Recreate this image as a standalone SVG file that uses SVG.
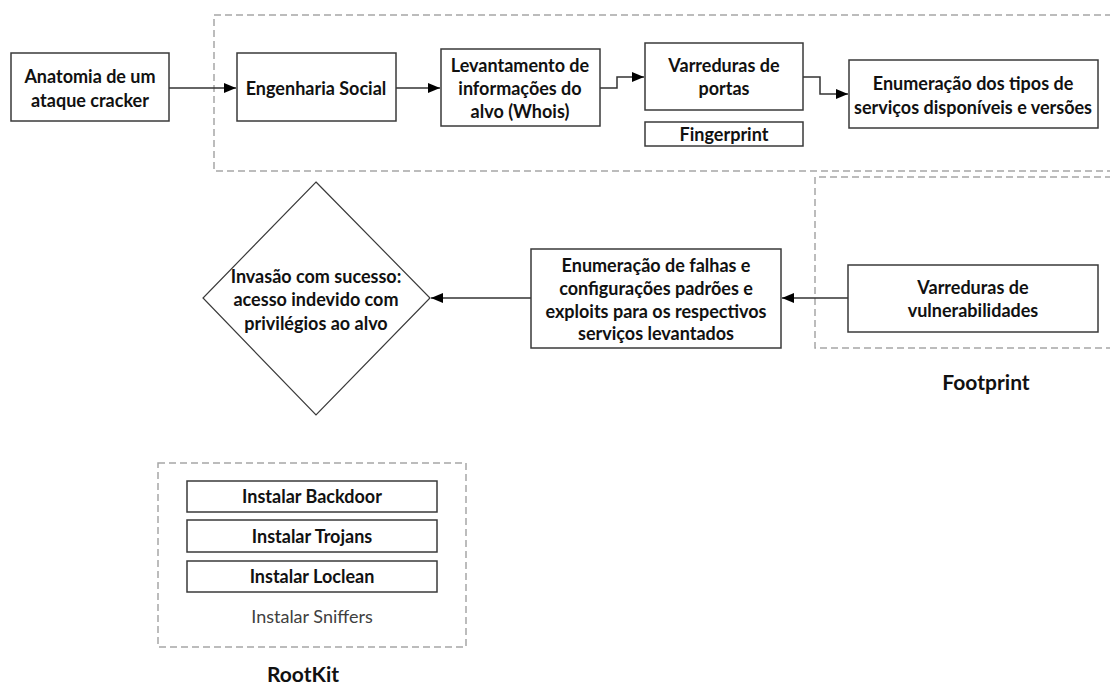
<svg xmlns="http://www.w3.org/2000/svg" width="1110" height="684" viewBox="0 0 1110 684">
  <defs>
    <marker id="arrow" viewBox="0 0 12 10" refX="12" refY="5" markerWidth="12" markerHeight="10" markerUnits="userSpaceOnUse" orient="auto">
      <path d="M0,0 L12,5 L0,10 Z" fill="#000"/>
    </marker>
    <style>
      .box { fill: #fff; stroke: #3a3a3a; stroke-width: 1.5; }
      .group { fill: none; stroke: #a6a6a6; stroke-width: 1.5; stroke-dasharray: 7 4; }
      .t { font-family: Lato, "Liberation Sans", sans-serif; font-weight: bold; font-size: 18px; fill: #111; text-anchor: middle; dominant-baseline: central; }
      .plain { font-family: Lato, "Liberation Sans", sans-serif; font-size: 18px; fill: #404040; text-anchor: middle; dominant-baseline: central; }
      .label { font-family: Lato, "Liberation Sans", sans-serif; font-weight: bold; font-size: 21px; fill: #111; text-anchor: middle; }
      .conn { fill: none; stroke: #333; stroke-width: 1.5; marker-end: url(#arrow); }
    </style>
  </defs>
  <rect width="1110" height="684" fill="#fff"/>

  <!-- dashed stage groups -->
  <g id="groups">
    <path class="group" d="M1112,15 H214 V171 H1112"/>
    <path class="group" d="M1112,177 H815 V348 H1112"/>
    <rect class="group" x="158" y="463" width="308" height="184"/>
  </g>

  <!-- connectors -->
  <g id="connectors">
    <path class="conn" d="M169,88 H236"/>
    <path class="conn" d="M396,88 H440"/>
    <path class="conn" d="M600,88 H617 V77 H644"/>
    <path class="conn" d="M803,77 H820 V94 H848"/>
    <path class="conn" d="M848,298 H782"/>
    <path class="conn" d="M531,298 H431"/>
  </g>

  <g id="anatomia">
    <rect class="box" x="11" y="53" width="158" height="68"/>
    <text class="t" x="90" y="76">Anatomia de um</text>
    <text class="t" x="90" y="100">ataque cracker</text>
  </g>

  <g id="engenharia-social">
    <rect class="box" x="237" y="53" width="159" height="68"/>
    <text class="t" x="316" y="88">Engenharia Social</text>
  </g>

  <g id="levantamento">
    <rect class="box" x="441" y="49" width="159" height="77"/>
    <text class="t" x="520" y="65">Levantamento de</text>
    <text class="t" x="520" y="88">informações do</text>
    <text class="t" x="520" y="111">alvo (Whois)</text>
  </g>

  <g id="varreduras-portas">
    <rect class="box" x="645" y="43" width="158" height="67"/>
    <text class="t" x="724" y="65">Varreduras de</text>
    <text class="t" x="724" y="88">portas</text>
  </g>

  <g id="fingerprint">
    <rect class="box" x="645" y="122" width="158" height="24"/>
    <text class="t" x="724" y="134">Fingerprint</text>
  </g>

  <g id="enumeracao-servicos">
    <rect class="box" x="849" y="60" width="249" height="68"/>
    <text class="t" x="973" y="83">Enumeração dos tipos de</text>
    <text class="t" x="973" y="107">serviços disponíveis e versões</text>
  </g>

  <g id="varreduras-vulnerabilidades">
    <rect class="box" x="848" y="265" width="250" height="67"/>
    <text class="t" x="973" y="287">Varreduras de</text>
    <text class="t" x="973" y="310">vulnerabilidades</text>
  </g>

  <g id="enumeracao-falhas">
    <rect class="box" x="531" y="249" width="250" height="99"/>
    <text class="t" x="656" y="265">Enumeração de falhas e</text>
    <text class="t" x="656" y="288">configurações padrões e</text>
    <text class="t" x="656" y="311">exploits para os respectivos</text>
    <text class="t" x="656" y="333">serviços levantados</text>
  </g>

  <g id="invasao">
    <polygon points="316,182 430,298 316,415 203,298" fill="#fff" stroke="#3a3a3a" stroke-width="1.2"/>
    <text class="t" x="316" y="276">Invasão com sucesso:</text>
    <text class="t" x="316" y="299">acesso indevido com</text>
    <text class="t" x="316" y="323">privilégios ao alvo</text>
  </g>

  <g id="footprint-label">
    <text class="label" x="986" y="390">Footprint</text>
  </g>

  <g id="backdoor">
    <rect class="box" x="187" y="481" width="250" height="31"/>
    <text class="t" x="312" y="496">Instalar Backdoor</text>
  </g>
  <g id="trojans">
    <rect class="box" x="187" y="520" width="250" height="32"/>
    <text class="t" x="312" y="536">Instalar Trojans</text>
  </g>
  <g id="loclean">
    <rect class="box" x="187" y="561" width="250" height="31"/>
    <text class="t" x="312" y="576">Instalar Loclean</text>
  </g>
  <g id="sniffers">
    <text class="plain" x="312" y="616">Instalar Sniffers</text>
  </g>

  <g id="rootkit-label">
    <text class="label" x="303" y="682">RootKit</text>
  </g>
</svg>
